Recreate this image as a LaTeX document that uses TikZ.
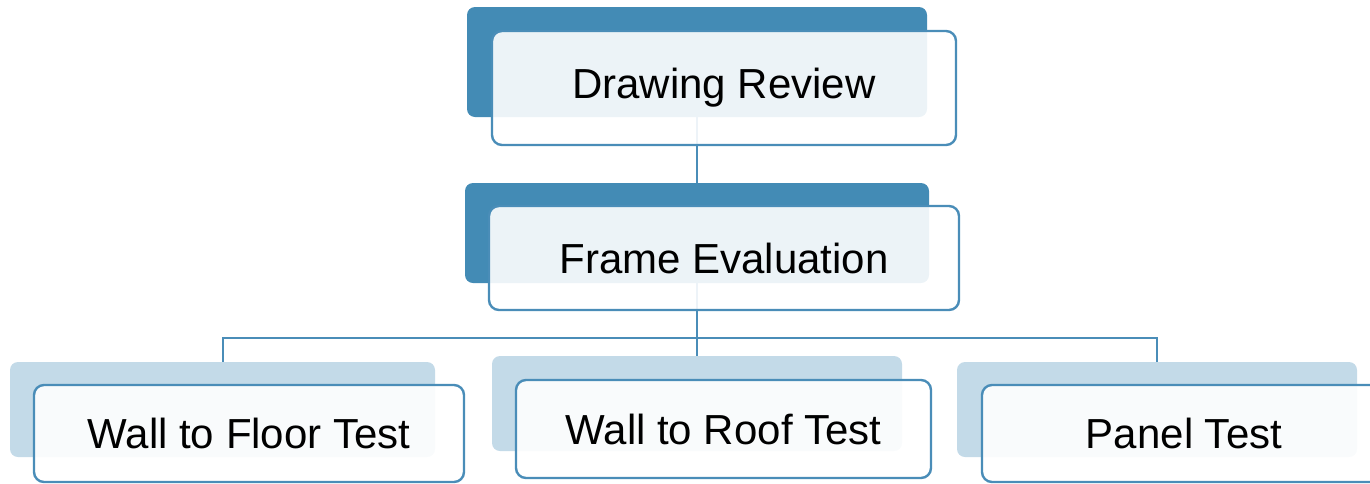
\documentclass[tikz,border=0pt]{standalone}
\usepackage{fontspec}
\setmainfont{Liberation Sans}
\definecolor{darkblue}{HTML}{438BB5}
\definecolor{paleblue}{HTML}{C3DAE8}
\definecolor{edgeblue}{HTML}{4A8DB8}
\tikzset{
  back/.style={rectangle, rounded corners=8pt, inner sep=0pt, draw=none},
  backdark/.style={back, fill=darkblue},
  backpale/.style={back, fill=paleblue},
  front/.style={rectangle, rounded corners=10pt, inner sep=0pt, draw=edgeblue,
    line width=2.4pt, fill=white, fill opacity=0.9, text opacity=1,
    font=\fontsize{42}{50}\selectfont, text=black},
  link/.style={draw=edgeblue, line width=2pt}
}
\begin{document}
\begin{tikzpicture}[x=1pt,y=-1pt]
\useasboundingbox (0,0) rectangle (1370,483);

% shaded boxes behind each step
\node[backdark, minimum width=460pt, minimum height=110pt] (b1) at (697,62) {};
\node[backdark, minimum width=464pt, minimum height=100pt] (b2) at (697,233) {};
\node[backpale, minimum width=425pt, minimum height=95pt] (b3a) at (222.5,409.5) {};
\node[backpale, minimum width=410pt, minimum height=95pt] (b3b) at (697,403.5) {};
\node[backpale, minimum width=400pt, minimum height=95pt] (b3c) at (1157,409.5) {};

% connectors
\coordinate (bus) at (697,338);
\draw[link] (b1.south) -- (b2.north);
\draw[link] (b2.south) -- (bus);
\draw[link] (bus) -| (b3a.north);
\draw[link] (bus) -| (b3c.north);
\draw[link] (bus) -- (b3b.north);

% labelled boxes
\node[front, minimum width=464pt, minimum height=114pt] (f1) at (724,88) {Drawing Review};
\node[front, minimum width=470pt, minimum height=104pt] (f2) at (724,258) {Frame Evaluation};
\node[front, minimum width=430pt, minimum height=97pt] (f3a) at (249,433.5) {Wall to Floor Test};
\node[front, minimum width=415pt, minimum height=98pt] (f3b) at (723.5,429) {Wall to Roof Test};
\node[front, minimum width=404pt, minimum height=97pt] (f3c) at (1184,433.5) {Panel Test};
\end{tikzpicture}
\end{document}
